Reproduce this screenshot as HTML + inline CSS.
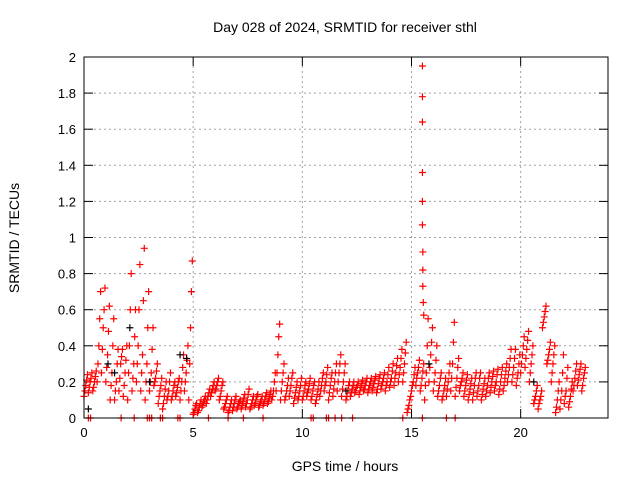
<!DOCTYPE html>
<html><head><meta charset="utf-8"><style>
body{margin:0;background:#fff}
svg{display:block;font-family:"Liberation Sans",sans-serif}
</style></head><body>
<svg id="chart" width="640" height="480" viewBox="0 0 640 480">
<text x="345" y="32" font-size="14" text-anchor="middle">Day 028 of 2024, SRMTID for receiver sthl</text>
<text x="19" y="238" font-size="14" text-anchor="middle" transform="rotate(-90 19 238)">SRMTID / TECUs</text>
<text x="345" y="471" font-size="14" text-anchor="middle">GPS time / hours</text>
<g id="grid"></g>
<g id="ticks"></g>
<g id="marks"></g>
<rect x="84" y="57" width="524" height="361" fill="none" stroke="#000" stroke-width="1"/>
</svg>
<script>
const xTicks=[0,5,10,15,20];
const yTicks=[0,0.2,0.4,0.6,0.8,1,1.2,1.4,1.6,1.8,2];
const yTickLabels=["0","0.2","0.4","0.6","0.8","1","1.2","1.4","1.6","1.8","2"];
const step=0.2;
const lo=[.12,.14,.15,.2,.25,.2,.1,.1,.15,.12,.1,.15,.2,.15,.1,.15,.18,.08,.05,.1,.1,.12,.1,.15,.1,.02,.03,.06,.08,.12,.15,.1,.05,.03,.04,.05,.05,.06,.05,.07,.06,.07,.08,.1,.15,.1,.1,.12,.08,.1,.1,.12,.1,.08,.12,.15,.1,.12,.15,.12,.1,.12,.14,.13,.15,.14,.15,.14,.16,.15,.17,.18,.2,.2,.03,.15,.18,.15,.1,.2,.15,.12,.1,.12,.15,.12,.15,.12,.1,.1,.12,.1,.12,.14,.15,.13,.15,.2,.2,.18,.25,.28,.2,.08,.05,.5,.3,.2,.03,.05,.08,.06,.15,.18,.15];
const q1=[.15,.17,.17,.3,.38,.28,.18,.15,.22,.18,.25,.22,.3,.25,.2,.2,.2,.12,.08,.12,.12,.14,.15,.2,.3,.03,.04,.07,.1,.14,.16,.12,.06,.04,.06,.06,.07,.08,.06,.08,.07,.08,.09,.12,.25,.15,.12,.15,.11,.12,.12,.14,.12,.1,.15,.18,.14,.16,.2,.16,.12,.14,.15,.15,.16,.16,.17,.16,.18,.18,.2,.22,.24,.25,.05,.18,.22,.18,.18,.28,.2,.15,.12,.16,.22,.17,.18,.15,.13,.14,.15,.13,.15,.17,.18,.16,.18,.24,.24,.22,.3,.33,.25,.1,.08,.53,.32,.25,.06,.1,.12,.09,.18,.21,.18];
const mid=[.18,.2,.2,.4,.5,.35,.25,.2,.3,.25,.4,.3,.4,.35,.3,.25,.22,.15,.12,.15,.15,.17,.2,.25,.5,.05,.06,.09,.12,.16,.18,.15,.08,.06,.08,.08,.09,.1,.08,.1,.09,.1,.11,.15,.35,.2,.15,.18,.14,.15,.15,.16,.15,.13,.18,.2,.18,.2,.25,.2,.15,.16,.17,.17,.18,.18,.19,.19,.2,.2,.22,.25,.28,.3,.07,.2,.25,.22,.25,.35,.25,.18,.15,.2,.3,.22,.2,.18,.16,.18,.18,.16,.18,.2,.2,.2,.22,.28,.28,.25,.35,.38,.3,.12,.1,.56,.35,.3,.1,.15,.15,.12,.22,.24,.22];
const q3=[.21,.22,.23,.55,.6,.48,.4,.3,.34,.32,.6,.45,.6,.65,.5,.38,.26,.18,.16,.2,.18,.2,.28,.32,.7,.07,.08,.1,.14,.18,.2,.18,.1,.08,.1,.09,.11,.13,.1,.12,.1,.12,.13,.2,.45,.25,.18,.22,.17,.18,.18,.19,.18,.16,.22,.24,.22,.25,.3,.25,.18,.18,.18,.19,.2,.2,.21,.22,.22,.24,.26,.29,.33,.36,.1,.24,.28,.26,.4,.42,.32,.22,.18,.25,.42,.28,.22,.21,.19,.22,.22,.19,.22,.23,.24,.24,.26,.33,.33,.3,.4,.43,.35,.15,.12,.59,.38,.35,.15,.25,.22,.16,.26,.27,.25];
const hi=[.24,.25,.26,.7,.72,.62,.55,.38,.38,.4,.8,.6,.85,.94,.7,.5,.3,.22,.2,.25,.2,.22,.35,.4,.87,.08,.1,.12,.16,.2,.22,.2,.12,.1,.12,.1,.13,.16,.12,.13,.12,.14,.15,.25,.52,.3,.22,.25,.2,.22,.2,.22,.2,.2,.25,.28,.25,.3,.35,.3,.2,.2,.2,.21,.22,.22,.23,.24,.25,.28,.3,.33,.38,.42,.12,.28,.32,.3,.55,.5,.4,.25,.22,.3,.53,.33,.25,.24,.22,.25,.25,.22,.25,.26,.27,.28,.3,.38,.38,.35,.45,.48,.4,.18,.15,.62,.42,.4,.2,.35,.28,.2,.3,.3,.28];
const spikeTimes=[15.5,15.5,15.5,15.5,15.5,15.5,15.52,15.52,15.52,15.54,15.56];
const spikeValues=[1.95,1.78,1.64,1.36,1.2,1.07,0.92,0.82,0.73,0.64,0.57];
const zeroTimes=[0.2,0.3,1.7,2.3,2.9,3.0,3.1,3.5,3.6,4.3,4.4,5.7,6.6,7.3,8.2,10.4,10.5,11.1,11.2,11.5,11.8,12.3,14.6,15.5,16.6,17.0];
const blackTimes=[0.2,1.1,1.4,2.1,3.0,4.4,4.7,12.0,15.8,20.6];
const blackValues=[0.05,0.3,0.25,0.5,0.2,0.35,0.33,0.15,0.3,0.2];
const X0=84,X1=608,Y0=418,Y1=57,XMAX=24,YMAX=2;
const sx=t=>X0+t/XMAX*(X1-X0);
const sy=v=>Y0-v/YMAX*(Y0-Y1);
const NS="http://www.w3.org/2000/svg";
const grid=document.getElementById('grid'),ticks=document.getElementById('ticks'),marks=document.getElementById('marks');
function mk(tag,attrs,parent){const e=document.createElementNS(NS,tag);for(const k in attrs)e.setAttribute(k,attrs[k]);parent.appendChild(e);return e;}
yTicks.forEach((v,i)=>{
  const y=sy(v);
  if(i>0&&i<yTicks.length-1){const g=mk('line',{x1:X0,x2:X1,y1:y,y2:y,stroke:'#a0a0a0','stroke-dasharray':'2,3'},grid);
  
  }
  mk('line',{x1:X0,x2:X0+9,y1:y,y2:y,stroke:'#000'},ticks);
  mk('line',{x1:X1,x2:X1-9,y1:y,y2:y,stroke:'#000'},ticks);
  const t=mk('text',{x:X0-8,y:y+5,'font-size':13,'text-anchor':'end'},ticks);t.textContent=yTickLabels[i];
  
  
});
xTicks.forEach(v=>{
  const x=sx(v);
  if(v>0){const g=mk('line',{x1:x,x2:x,y1:Y0,y2:Y1,stroke:'#a0a0a0','stroke-dasharray':'2,3'},grid);
  
  }
  mk('line',{x1:x,x2:x,y1:Y0,y2:Y0-9,stroke:'#000'},ticks);
  mk('line',{x1:x,x2:x,y1:Y1,y2:Y1+9,stroke:'#000'},ticks);
  const t=mk('text',{x:x,y:Y0+19,'font-size':13,'text-anchor':'middle'},ticks);t.textContent=String(v);
  
  
});
function plus(t,v,color){
  const x=sx(t),y=sy(v);
  const p=mk('path',{d:`M${x-3.5},${y}h7M${x},${y-3.5}v7`,stroke:color,'stroke-width':1.2,fill:'none'},marks);
  
  
}
lo.forEach((v,i)=>plus(i*step,v,'#f00'));
q1.forEach((v,i)=>plus(i*step+0.04,v,'#f00'));
mid.forEach((v,i)=>plus(i*step+0.08,v,'#f00'));
q3.forEach((v,i)=>plus(i*step+0.12,v,'#f00'));
hi.forEach((v,i)=>plus(i*step+0.16,v,'#f00'));
spikeTimes.forEach((t,i)=>plus(t,spikeValues[i],'#f00'));
zeroTimes.forEach(t=>plus(t,0,'#f00'));
blackTimes.forEach((t,i)=>plus(t,blackValues[i],'#000'));
</script>
</body></html>
